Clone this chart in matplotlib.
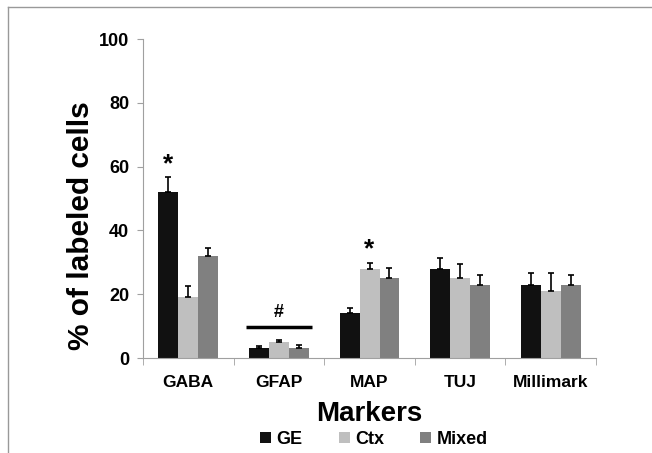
import numpy as np
import matplotlib.pyplot as plt
from matplotlib.lines import Line2D

plt.rcParams['font.family'] = ['Liberation Sans', 'DejaVu Sans']
plt.rcParams['font.weight'] = 'bold'
plt.rcParams['axes.labelweight'] = 'bold'

# Data
markers = ["GABA", "GFAP", "MAP", "TUJ", "Millimark"]
groups = ["GE", "Ctx", "Mixed"]
ge = [52, 3, 14, 28, 23]
ctx = [19, 5, 28, 25, 21]
mixed = [32, 3, 25, 23, 23]
ge_err = [4.7, 0.8, 1.8, 3.3, 3.6]
ctx_err = [3.7, 0.5, 1.9, 4.5, 5.6]
mixed_err = [2.5, 1.0, 3.2, 3.1, 3.0]
colors = ["#111111", "#bfbfbf", "#808080"]

fig = plt.figure(figsize=(6.52, 4.53), dpi=100)
ax = fig.add_axes([0.2193, 0.2097, 0.695, 0.704])

x = np.arange(len(markers))
w = 0.22
series = [(ge, ge_err), (ctx, ctx_err), (mixed, mixed_err)]
for i, (vals, errs) in enumerate(series):
    pos = x + (i - 1) * w
    ax.bar(pos, vals, width=w, color=colors[i], label=groups[i], zorder=2)
    ax.errorbar(pos, vals, yerr=[np.zeros(len(vals)), errs], fmt='none',
                ecolor='black', elinewidth=1.2, capsize=2, capthick=1.2, zorder=3)

# significance marks
ax.text(x[0] - w, ge[0] + ge_err[0] + 0.3, "*", ha='center', va='bottom', fontsize=19)
ax.text(x[2], ctx[2] + ctx_err[2] + 0.3, "*", ha='center', va='bottom', fontsize=19)
ax.plot([x[1] - 0.36, x[1] + 0.36], [9.7, 9.7], color='black', lw=2.5, solid_capstyle='butt')
ax.text(x[1], 11.5, "#", ha='center', va='bottom', fontsize=13)

ax.set_xlim(-0.5, len(markers) - 0.5)
ax.set_ylim(0, 100)
ax.set_yticks(range(0, 101, 20))
ax.tick_params(axis='y', labelsize=13, length=4, color='#a0a0a0', pad=6)
ax.set_xticks(x)
ax.set_xticklabels(markers, fontsize=12.5)
ax.set_xticks(np.arange(-0.5, len(markers)), minor=True)
ax.tick_params(axis='x', which='major', length=0, pad=12)
ax.tick_params(axis='x', which='minor', length=5, color='#a0a0a0')

for s in ['top', 'right']:
    ax.spines[s].set_visible(False)
for s in ['left', 'bottom']:
    ax.spines[s].set_color('#a0a0a0')
    ax.spines[s].set_linewidth(0.8)

ax.set_ylabel("% of labeled cells", fontsize=21.5)
ax.yaxis.set_label_coords(-0.106, 0.415)
ax.set_xlabel("Markers", fontsize=20, labelpad=8)

ax.legend(loc='center', bbox_to_anchor=(0.51, -0.255), ncol=3, frameon=False,
          fontsize=13, handlelength=0.6, handleheight=0.6, handletextpad=0.3,
          columnspacing=2.0)

# outer frame (top and left)
fig.add_artist(Line2D([8 / 652, 1], [1 - 7 / 453, 1 - 7 / 453], color='#999999', lw=1))
fig.add_artist(Line2D([8 / 652, 8 / 652], [0, 1 - 7 / 453], color='#999999', lw=1))

fig.savefig("out.png", dpi=100)
